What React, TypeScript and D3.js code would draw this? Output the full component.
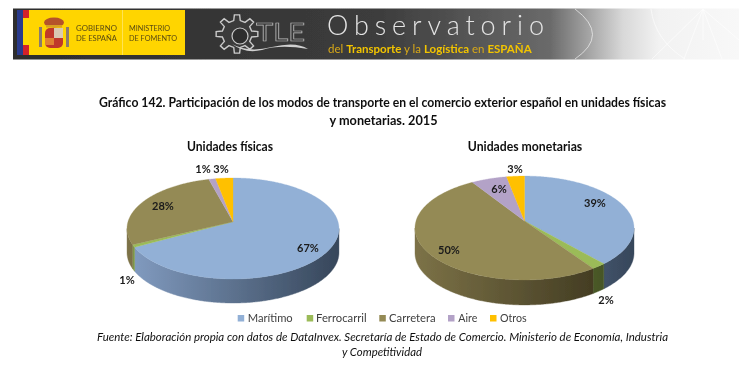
import React from "react";
import * as d3 from "d3";

const categories = ["Marítimo", "Ferrocarril", "Carretera", "Aire", "Otros"];
const fisicas = [67, 0.8, 28, 1.2, 3];
const monetarias = [38.6, 1.9, 50.5, 6, 3];
const fisicasLabels = ["67%", "1%", "28%", "1%", "3%"];
const monetariasLabels = ["39%", "2%", "50%", "6%", "3%"];
const colors = ["#92B0D6", "#9BBB59", "#948A54", "#B3A2C7", "#FFC000"];
const wallLight = ["#839DC2", "#7f9a48", "#7C7247", "#8a7ca0", "#c99a00"];
const wallDark = ["#36465A", "#3D4A20", "#37311B", "#4a4060", "#6a5000"];

const FONT = "Lato, 'Open Sans', sans-serif";
const K = 0.1347;

type Geo = { id: string; cx: number; y0: number; A: number; B: number; depth: number; rx: number;
  values: number[]; labels: string[]; labelAt: [number, number][]; title: string; titleX: number; titleW: number };

const pies: Geo[] = [
  { id: "f", cx: 233, y0: 221.7, A: 105, B: 49.6, depth: 24, rx: 106, values: fisicas, labels: fisicasLabels,
    labelAt: [[308, 248], [127, 280], [163, 206.5], [203, 169], [221, 169]], title: "Unidades físicas", titleX: 230, titleW: 86 },
  { id: "m", cx: 524.5, y0: 221, A: 108.5, B: 51, depth: 25, rx: 109.5, values: monetarias, labels: monetariasLabels,
    labelAt: [[595, 203], [606, 300], [449, 250], [499, 189], [515, 169]], title: "Unidades monetarias", titleX: 525, titleW: 114.5 },
];

const legendSq = [237.7, 306.7, 379.3, 448, 490];
const legendTx = [247.7, 316, 389, 458.3, 500];
const legendW = [45, 50.7, 46.7, 19, 26.7];

function Pie({ g }: { g: Geo }) {
  const layout = d3.pie<number>().sort(null).startAngle(0).endAngle(2 * Math.PI)(g.values);
  const project = (t: number): [number, number] => {
    const w = 1 + K * Math.cos(t);
    return [g.cx + (g.A * Math.sin(t)) / w, g.y0 - (g.B * Math.cos(t)) / w];
  };
  const samples = (a: number, b: number) => {
    const n = Math.max(2, Math.ceil((b - a) / 0.01));
    return d3.range(n + 1).map((i) => a + ((b - a) * i) / n);
  };
  const line = d3.line<[number, number]>();
  const tRight = Math.acos(-K);
  const tLeft = 2 * Math.PI - tRight;
  return (
    <g>
      <defs>
        {categories.map((_, i) => (
          <linearGradient key={i} id={`w${g.id}${i}`} gradientUnits="userSpaceOnUse" x1={g.cx - g.rx} x2={g.cx + g.rx} y1={0} y2={0}>
            <stop offset="0" stopColor={wallLight[i]} />
            <stop offset="1" stopColor={wallDark[i]} />
          </linearGradient>
        ))}
      </defs>
      <g filter="url(#pieSoft)">
        {layout.map((s, i) => {
          const a = Math.max(s.startAngle, tRight);
          const b = Math.min(s.endAngle, tLeft);
          if (b <= a) return null;
          const top = samples(a, b).map(project);
          const bottom = top.map(([x, y]) => [x, y + g.depth] as [number, number]).reverse();
          return <path key={i} d={line([...top, ...bottom])! + "Z"} fill={`url(#w${g.id}${i})`} stroke={`url(#w${g.id}${i})`} strokeWidth={0.4} />;
        })}
        {layout.map((s, i) => {
          const pts: [number, number][] = [[g.cx, g.y0], ...samples(s.startAngle, s.endAngle).map(project)];
          return <path key={i} d={line(pts)! + "Z"} fill={colors[i]} stroke={colors[i]} strokeWidth={0.3} />;
        })}
      </g>
      <g filter="url(#txtSoft)">
        <text x={g.titleX} y={151} textAnchor="middle" fontFamily={FONT} fontWeight={700} fontSize={13} fill="#111" textLength={g.titleW} lengthAdjust="spacingAndGlyphs">{g.title}</text>
        {g.labels.map((l, i) => (
          <text key={i} x={g.labelAt[i][0]} y={g.labelAt[i][1]} dy="0.35em" textAnchor="middle" fontFamily={FONT} fontWeight={700} fontSize={11} fill="#1a1a1a">{l}</text>
        ))}
      </g>
    </g>
  );
}

function gearPath(cx: number, cy: number, r0: number, r1: number, teeth: number) {
  const pts: [number, number][] = [];
  const step = (2 * Math.PI) / teeth;
  d3.range(teeth).forEach((i) => {
    const a = i * step;
    pts.push([cx + r0 * Math.cos(a - step * 0.28), cy + r0 * 0.92 * Math.sin(a - step * 0.28)]);
    pts.push([cx + r1 * Math.cos(a - step * 0.16), cy + r1 * 0.92 * Math.sin(a - step * 0.16)]);
    pts.push([cx + r1 * Math.cos(a + step * 0.16), cy + r1 * 0.92 * Math.sin(a + step * 0.16)]);
    pts.push([cx + r0 * Math.cos(a + step * 0.28), cy + r0 * 0.92 * Math.sin(a + step * 0.28)]);
  });
  return d3.line()(pts) + "Z";
}

function Banner() {
  return (
    <g filter="url(#soft)">
      <rect x={13} y={8.5} width={726} height={51} fill="url(#bannerBg)" />
      <rect x={17} y={10} width={6} height={45} fill="#2B3A8C" />
      <rect x={23} y={10} width={6} height={45} fill="#D4202A" />
      <rect x={23} y={18} width={6} height={27} fill="#FFD800" />
      <rect x={29} y={10} width={156} height={45} fill="#FFD500" />
      <line x1={122.5} x2={122.5} y1={10} y2={55} stroke="#FFE97A" strokeWidth={0.7} />
      {/* escudo */}
      <rect x={45} y={28} width={18} height={20} rx={5} fill="#C0392B" />
      <rect x={54} y={28} width={9} height={10} fill="#D9C9B0" />
      <rect x={45} y={38} width={9} height={7} fill="#E08030" />
      <ellipse cx={54} cy={22.5} rx={10} ry={5} fill="#B5532A" />
      <rect x={46} y={25} width={16} height={2.5} fill="#D8A020" />
      <rect x={39} y={27} width={3} height={20} fill="#8a7a70" />
      <rect x={66} y={27} width={3} height={20} fill="#8a7a70" />
      <g fontFamily="Lato, sans-serif" fontSize={7} fill="#5a4a10">
        <text x={76} y={31} textLength={41} lengthAdjust="spacingAndGlyphs">GOBIERNO</text>
        <text x={76} y={41} textLength={41} lengthAdjust="spacingAndGlyphs">DE ESPAÑA</text>
        <text x={129} y={31} textLength={41} lengthAdjust="spacingAndGlyphs">MINISTERIO</text>
        <text x={129} y={41} textLength={48} lengthAdjust="spacingAndGlyphs">DE FOMENTO</text>
      </g>
      {/* OTLE */}
      <path d={gearPath(237, 34, 15, 21, 8)} fill="#3a3a3a" stroke="#c9c9c9" strokeWidth={1.4} />
      <circle cx={240} cy={36} r={8} fill="#2e2e2e" stroke="#c9c9c9" strokeWidth={1.2} />
      <text x={256} y={41} fontFamily="Lato, sans-serif" fontSize={25} fill="none" stroke="#bdbdbd" strokeWidth={0.7} textLength={49} lengthAdjust="spacingAndGlyphs">TLE</text>
      <path d="M232,44 Q248,53 272,47 T308,49 Q280,44 262,50 Q245,54 232,44Z" fill="#d0d0d0" />
      {/* título */}
      <text x={327} y={35.3} fontFamily="Lato, sans-serif" fontWeight={300} fontSize={27} fill="#e4e4e4" textLength={217} lengthAdjust="spacing">Observatorio</text>
      <text x={328} y={52.6} fontFamily="Lato, sans-serif" fontSize={11.5} fill="#D8A818">
        del <tspan fontWeight={700} fill="#F2C400">Transporte</tspan> y la <tspan fontWeight={700} fill="#F2C400">Logística</tspan> en <tspan fontWeight={700} fill="#F2C400">ESPAÑA</tspan>
      </text>
      {/* trazos decorativos */}
      <g stroke="#ffffff" strokeWidth={0.8} fill="none" opacity={0.75}>
        <line x1={703} y1={9} x2={652} y2={59} />
        <line x1={703} y1={9} x2={684} y2={59} />
        <line x1={703} y1={9} x2={703} y2={40} />
        <line x1={703} y1={9} x2={722} y2={59} />
        <line x1={703} y1={9} x2={739} y2={40} />
        <path d="M651,9 Q655,40 685,59" />
        <path d="M575,9 Q610,35 575,59" />
      </g>
    </g>
  );
}

export default function App() {
  return (
    <svg width={739} height={376} viewBox="0 0 739 376" style={{ position: "absolute", left: 0, top: 0, background: "#fff" }}>
      <defs>
        <filter id="soft" x="0" y="0" width="1" height="1"><feGaussianBlur stdDeviation="0.55" /></filter>
        <filter id="txtSoft" x="-0.02" y="-0.02" width="1.04" height="1.04"><feGaussianBlur stdDeviation="0.3" /></filter>
        <filter id="pieSoft" x="-0.02" y="-0.02" width="1.04" height="1.04"><feGaussianBlur stdDeviation="0.4" /></filter>
        <linearGradient id="bannerBg" x1="0" x2="1" y1="0" y2="0">
          <stop offset="0" stopColor="#2d2d2d" />
          <stop offset="0.5" stopColor="#3c3c3c" />
          <stop offset="0.74" stopColor="#6a6a6a" />
          <stop offset="0.84" stopColor="#d8d8d8" />
          <stop offset="0.89" stopColor="#f2f2f2" />
          <stop offset="1" stopColor="#f8f8f8" />
        </linearGradient>
      </defs>
      <Banner />
      <g filter="url(#txtSoft)" fontFamily={FONT} fontWeight={700} fontSize={13} fill="#111" textAnchor="middle">
        <text x={382.5} y={107} textLength={567} lengthAdjust="spacingAndGlyphs">Gráfico 142. Participación de los modos de transporte en el comercio exterior español en unidades físicas</text>
        <text x={383.5} y={125} textLength={108} lengthAdjust="spacingAndGlyphs">y monetarias. 2015</text>
      </g>
      {pies.map((g) => <Pie key={g.id} g={g} />)}
      {categories.map((c, i) => (
        <g key={c} filter="url(#txtSoft)">
          <rect x={legendSq[i]} y={315} width={6.5} height={6.5} fill={colors[i]} />
          <text x={legendTx[i]} y={321.7} fontFamily={FONT} fontSize={12} fill="#404040" textLength={legendW[i]} lengthAdjust="spacingAndGlyphs">{c}</text>
        </g>
      ))}
      <g filter="url(#txtSoft)" fontFamily={FONT} fontStyle="italic" fontSize={12} fill="#111" textAnchor="middle">
        <text x={382.5} y={341} textLength={571} lengthAdjust="spacingAndGlyphs">Fuente: Elaboración propia con datos de DataInvex. Secretaría de Estado de Comercio. Ministerio de Economía, Industria</text>
        <text x={382} y={355.5} textLength={80} lengthAdjust="spacingAndGlyphs">y Competitividad</text>
      </g>
    </svg>
  );
}
